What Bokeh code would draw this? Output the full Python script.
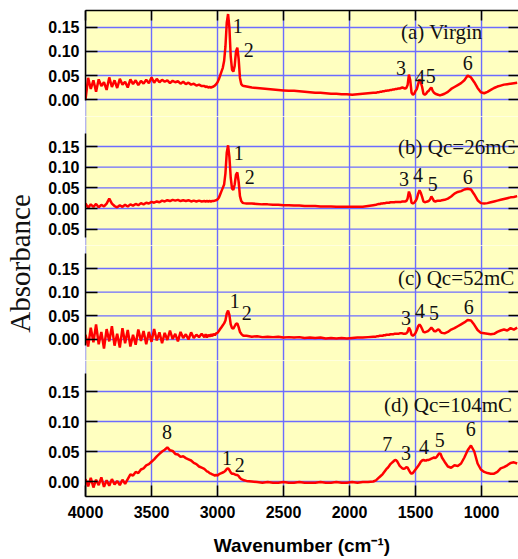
from bokeh.plotting import figure
from bokeh.models import Range1d, LinearAxis, FixedTicker
from bokeh.layouts import column, row
from bokeh.embed import file_html
from bokeh.resources import INLINE
from bokeh.core.properties import value

# ---------------- data ----------------
wavenumber = (list(range(4000, 3119, -20)) + list(range(3100, 2799, -10)) +
              list(range(2780, 1819, -40)) + list(range(1800, 1299, -10)) +
              list(range(1280, 729, -25)))

virgin = [
    0.000, 0.045, 0.022, 0.040, 0.016, 0.042, 0.028, 0.036, 0.020, 0.046,
    0.026, 0.040, 0.024, 0.043, 0.031, 0.037, 0.025, 0.042, 0.032, 0.040,
    0.030, 0.039, 0.033, 0.041, 0.034, 0.046, 0.035, 0.043, 0.036, 0.041,
    0.037, 0.040, 0.034, 0.039, 0.036, 0.038, 0.033, 0.037, 0.032, 0.035,
    0.031, 0.033, 0.029, 0.031, 0.028,
    0.028, 0.026, 0.027, 0.025, 0.026, 0.025, 0.026, 0.027, 0.029, 0.032,
    0.036, 0.042, 0.050, 0.058, 0.066, 0.080, 0.110, 0.160, 0.178, 0.150,
    0.090, 0.062, 0.058, 0.070, 0.100, 0.108, 0.085, 0.045, 0.032, 0.029, 0.028,
    0.027, 0.025, 0.024, 0.023, 0.022, 0.021, 0.020, 0.019, 0.018, 0.018,
    0.017, 0.016, 0.015, 0.014, 0.014, 0.013, 0.012, 0.012, 0.011, 0.011,
    0.010, 0.011, 0.012, 0.013, 0.014,
    0.014, 0.015, 0.015, 0.016, 0.016, 0.017, 0.017, 0.018, 0.018, 0.019,
    0.019, 0.020, 0.020, 0.021, 0.021, 0.022, 0.022, 0.023, 0.023, 0.024,
    0.025, 0.024, 0.023, 0.024, 0.030, 0.052, 0.040, 0.014, 0.010, 0.012,
    0.018, 0.022, 0.032, 0.042, 0.036, 0.026, 0.012, 0.010, 0.012, 0.016,
    0.018, 0.022, 0.025, 0.018, 0.014, 0.012, 0.011, 0.010, 0.009, 0.009, 0.010,
    0.012, 0.016, 0.022, 0.026, 0.030, 0.034, 0.040, 0.050, 0.046, 0.036,
    0.024, 0.015, 0.013, 0.016, 0.020, 0.024, 0.027, 0.029, 0.031, 0.032,
    0.033, 0.034, 0.035,
]

qc26 = [
    0.012, 0.002, 0.010, 0.004, 0.011, 0.003, 0.009, 0.005, 0.012, 0.024,
    0.012, 0.006, 0.003, 0.008, 0.004, 0.009, 0.005, 0.010, 0.007, 0.011,
    0.008, 0.013, 0.010, 0.014, 0.012, 0.016, 0.014, 0.017, 0.015, 0.019,
    0.017, 0.020, 0.018, 0.021, 0.019, 0.021, 0.018, 0.020, 0.018, 0.020,
    0.017, 0.019, 0.017, 0.019, 0.017,
    0.018, 0.017, 0.018, 0.017, 0.018, 0.017, 0.018, 0.018, 0.019, 0.020,
    0.022, 0.026, 0.034, 0.042, 0.050, 0.058, 0.085, 0.135, 0.153, 0.125,
    0.075, 0.048, 0.045, 0.058, 0.082, 0.087, 0.065, 0.030, 0.018, 0.014, 0.013,
    0.012, 0.012, 0.011, 0.010, 0.010, 0.009, 0.009, 0.008, 0.008, 0.007,
    0.007, 0.006, 0.006, 0.006, 0.005, 0.005, 0.005, 0.004, 0.004, 0.004,
    0.004, 0.004, 0.004, 0.006, 0.008,
    0.009, 0.010, 0.011, 0.011, 0.012, 0.012, 0.013, 0.013, 0.014, 0.014,
    0.014, 0.015, 0.015, 0.015, 0.015, 0.016, 0.016, 0.016, 0.016, 0.016,
    0.017, 0.017, 0.017, 0.018, 0.024, 0.041, 0.032, 0.014, 0.012, 0.014,
    0.018, 0.024, 0.036, 0.044, 0.038, 0.028, 0.017, 0.015, 0.016, 0.017,
    0.018, 0.022, 0.029, 0.024, 0.018, 0.017, 0.018, 0.019, 0.019, 0.019, 0.020,
    0.021, 0.024, 0.029, 0.036, 0.040, 0.042, 0.046, 0.048, 0.046, 0.034,
    0.020, 0.013, 0.012, 0.013, 0.015, 0.017, 0.019, 0.021, 0.023, 0.025,
    0.027, 0.028, 0.030,
]

qc52 = [
    0.010, -0.015, 0.025, -0.006, 0.032, -0.010, 0.016, -0.019, 0.022, -0.004,
    0.028, -0.013, 0.012, -0.017, 0.024, -0.008, 0.020, -0.015, 0.010, -0.011,
    0.021, -0.003, 0.018, -0.010, 0.016, -0.005, 0.022, -0.002, 0.015, -0.008,
    0.014, -0.001, 0.019, 0.001, 0.012, -0.004, 0.016, 0.003, 0.011, 0.000,
    0.015, 0.003, 0.010, 0.005, 0.012,
    0.005, 0.011, 0.004, 0.010, 0.006, 0.011, 0.007, 0.012, 0.009, 0.013,
    0.014, 0.018, 0.022, 0.026, 0.030, 0.034, 0.040, 0.055, 0.061, 0.052,
    0.032, 0.024, 0.023, 0.028, 0.033, 0.034, 0.026, 0.016, 0.012, 0.009, 0.008,
    0.008, 0.006, 0.007, 0.005, 0.006, 0.005, 0.006, 0.004, 0.005, 0.004,
    0.005, 0.003, 0.004, 0.003, 0.004, 0.002, 0.003, 0.002, 0.003, 0.002,
    0.003, 0.004, 0.004, 0.005, 0.006,
    0.006, 0.007, 0.007, 0.008, 0.008, 0.008, 0.009, 0.009, 0.010, 0.010,
    0.010, 0.011, 0.011, 0.011, 0.012, 0.012, 0.012, 0.012, 0.013, 0.013,
    0.013, 0.012, 0.012, 0.013, 0.016, 0.025, 0.020, 0.010, 0.008, 0.010,
    0.014, 0.020, 0.028, 0.032, 0.028, 0.022, 0.016, 0.015, 0.016, 0.017,
    0.019, 0.022, 0.025, 0.022, 0.018, 0.017, 0.019, 0.021, 0.020, 0.016, 0.014,
    0.013, 0.016, 0.021, 0.024, 0.028, 0.032, 0.036, 0.041, 0.040, 0.031,
    0.020, 0.014, 0.013, 0.012, 0.011, 0.012, 0.016, 0.019, 0.021, 0.019,
    0.024, 0.021, 0.025,
]

qc104 = [
    0.004, -0.008, 0.006, -0.010, 0.003, -0.006, 0.007, -0.009, 0.002, -0.007,
    0.004, -0.005, 0.001, -0.006, 0.003, -0.004, 0.004, 0.012, 0.010, 0.016,
    0.014, 0.020, 0.022, 0.027, 0.029, 0.033, 0.037, 0.042, 0.046, 0.050,
    0.053, 0.057, 0.052, 0.051, 0.046, 0.045, 0.041, 0.042, 0.039, 0.037,
    0.035, 0.031, 0.029, 0.025, 0.023,
    0.021, 0.019, 0.017, 0.016, 0.014, 0.013, 0.012, 0.011, 0.010, 0.011,
    0.010, 0.012, 0.013, 0.014, 0.015, 0.016, 0.018, 0.021, 0.022, 0.019,
    0.015, 0.013, 0.013, 0.012, 0.011, 0.011, 0.009, 0.006, 0.004, 0.003, 0.002,
    0.001, 0.000, -0.001, -0.002, -0.001, -0.002, -0.002, -0.001, -0.002, -0.002,
    -0.001, -0.002, -0.002, -0.002, -0.001, -0.002, -0.002, -0.001, -0.002, -0.002,
    -0.001, -0.002, -0.001, -0.001, 0.000,
    0.002, 0.004, 0.006, 0.008, 0.010, 0.012, 0.015, 0.018, 0.021, 0.023,
    0.026, 0.029, 0.031, 0.033, 0.035, 0.036, 0.034, 0.030, 0.026, 0.024,
    0.022, 0.021, 0.022, 0.024, 0.023, 0.019, 0.015, 0.013, 0.014, 0.017,
    0.020, 0.023, 0.026, 0.029, 0.033, 0.035, 0.036, 0.035, 0.035, 0.036,
    0.036, 0.037, 0.038, 0.039, 0.040, 0.039, 0.041, 0.044, 0.047, 0.046, 0.040,
    0.033, 0.025, 0.023, 0.027, 0.026, 0.030, 0.040, 0.052, 0.060, 0.050,
    0.030, 0.020, 0.016, 0.014, 0.013, 0.013, 0.016, 0.022, 0.024, 0.027,
    0.031, 0.032, 0.030,
]

x_ticks = [4000, 3500, 3000, 2500, 2000, 1500, 1000]

titles = ["(a) Virgin", "(b) Qc=26mC", "(c) Qc=52mC", "(d) Qc=104mC"]
title_pos = [(1610, 0.140), (1632, 0.148), (1632, 0.129), (1738, 0.127)]

peak_a = (["1", "2", "3", "4", "5", "6"],
          [2846, 2763, 1610, 1467, 1384, 1105],
          [0.154, 0.104, 0.065, 0.046, 0.048, 0.077])
peak_b = (["1", "2", "3", "4", "5", "6"],
          [2839, 2756, 1587, 1482, 1369, 1105],
          [0.135, 0.077, 0.072, 0.080, 0.060, 0.077])
peak_c = (["1", "2", "3", "4", "5", "6"],
          [2869, 2779, 1572, 1467, 1361, 1097],
          [0.082, 0.055, 0.046, 0.061, 0.055, 0.068])
peak_d = (["8", "1", "2", "7", "3", "4", "5", "6"],
          [3382, 2929, 2831, 1715, 1572, 1436, 1316, 1082],
          [0.082, 0.040, 0.028, 0.063, 0.048, 0.058, 0.070, 0.087])

x_title = "Wavenumber (cm\u207b\u00b9)"
y_title = "Absorbance"

# ---------------- styling ----------------
BG = "#ffffc0"
GRID = "#6c6cff"
SERIF = "Liberation Serif"
SANS = "Liberation Sans"
MAIN_W = 473
X_LO, X_HI = 4000, 720

x_rng = Range1d(X_LO, X_HI)


def hidden_labels(ax):
    ax.major_label_text_font_size = "0px"
    ax.major_label_text_color = None
    ax.major_label_standoff = 0


def make_panel(h, yr, ticks, bounds, spectrum, title, tpos, peaks,
               top=0, bottom=0, xaxis=False, overrides=None):
    p = figure(width=MAIN_W, height=h, x_range=x_rng, y_range=Range1d(*yr),
               output_backend="svg", toolbar_location=None, title=None,
               x_axis_location="below" if xaxis else None,
               y_axis_location="left",
               min_border_left=38, min_border_right=0,
               min_border_top=top, min_border_bottom=bottom)
    p.background_fill_color = BG
    p.border_fill_color = "white"
    p.outline_line_color = None
    p.grid.visible = False

    # grid lines at the tick positions (drawn as glyphs beneath the spectrum)
    p.segment(x0=x_ticks, x1=x_ticks, y0=[yr[0]] * len(x_ticks),
              y1=[yr[1]] * len(x_ticks), line_color=GRID, line_width=1.4)
    p.segment(x0=[X_LO] * len(ticks), x1=[X_HI] * len(ticks), y0=ticks, y1=ticks,
              line_color=GRID, line_width=1.4)

    ly = p.yaxis[0]
    ly.ticker = FixedTicker(ticks=ticks)
    ly.bounds = bounds
    ly.major_tick_in = 12
    ly.major_tick_out = 0
    ly.minor_tick_line_color = None
    ly.axis_line_width = 1.5
    ly.major_tick_line_width = 1.5
    ly.major_label_text_font = SANS
    ly.major_label_text_font_style = "bold"
    ly.major_label_text_font_size = "16px"
    ly.major_label_text_color = "black"
    ly.major_label_standoff = 6
    if overrides:
        ly.major_label_overrides = overrides
    else:
        ly.major_label_overrides = {t: f"{t:.2f}" for t in ticks}

    ry = LinearAxis(ticker=FixedTicker(ticks=ticks), major_tick_in=10,
                    major_tick_out=0, axis_line_color=None,
                    minor_tick_line_color=None, major_tick_line_width=1.5)
    hidden_labels(ry)
    p.add_layout(ry, "right")

    p.line(wavenumber, spectrum, line_color="#ff0000", line_width=2.5)

    p.text(x=[tpos[0]], y=[tpos[1]], text=[title], text_font=value(SERIF),
           text_font_size="21px", text_align="left", text_baseline="middle",
           text_color="#111111")
    p.text(x=peaks[1], y=peaks[2], text=peaks[0], text_font=value(SERIF),
           text_font_size="20px", text_align="center", text_baseline="middle",
           text_color="#111111")

    if xaxis:
        xa = p.xaxis[0]
        xa.ticker = FixedTicker(ticks=x_ticks)
        xa.major_tick_in = 11
        xa.major_tick_out = 0
        xa.minor_tick_line_color = None
        xa.axis_line_width = 1.5
        xa.major_tick_line_width = 1.5
        xa.major_label_text_font = SANS
        xa.major_label_text_font_style = "bold"
        xa.major_label_text_font_size = "16px"
        xa.major_label_text_color = "black"
        xa.major_label_standoff = 9
        xa.axis_label = x_title
        xa.axis_label_text_font = SANS
        xa.axis_label_text_font_style = "bold"
        xa.axis_label_text_font_size = "19px"
        xa.axis_label_text_color = "black"
        xa.axis_label_standoff = 14
    return p


fa = make_panel(116, (-0.0354, 0.1854), [0.0, 0.05, 0.10, 0.15], (-0.002, 0.19),
                virgin, titles[0], title_pos[0], peak_a, top=10)
top_axis = LinearAxis(ticker=FixedTicker(ticks=x_ticks), major_tick_in=10,
                      major_tick_out=0, minor_tick_line_color=None,
                      axis_line_width=1.5, major_tick_line_width=1.5)
hidden_labels(top_axis)
fa.add_layout(top_axis, "above")

fb = make_panel(129, (-0.0895, 0.2226), [-0.05, 0.0, 0.05, 0.10, 0.15], (-0.07, 0.181),
                qc26, titles[1], title_pos[1], peak_b,
                overrides={-0.05: "0.05", 0.0: "0.00", 0.05: "0.05", 0.10: "0.10", 0.15: "0.15"})
fc = make_panel(115, (-0.0444, 0.1986), [0.0, 0.05, 0.10, 0.15], (-0.013, 0.182),
                qc52, titles[2], title_pos[2], peak_c)
fd = make_panel(199, (-0.025, 0.2017), [0.0, 0.05, 0.10, 0.15], (-0.03, 0.18),
                qc104, titles[3], title_pos[3], peak_d, bottom=63, xaxis=True)

# y axis title, carried by an otherwise empty axis in a narrow strip
lab = figure(width=45, height=559, x_range=Range1d(0, 1), y_range=Range1d(0, 1),
             output_backend="svg", toolbar_location=None, title=None,
             x_axis_location=None, y_axis_location="left",
             min_border_left=0, min_border_right=0, min_border_top=0, min_border_bottom=33)
lab.outline_line_color = None
lab.grid.visible = False
lab.background_fill_color = "white"
la = lab.yaxis[0]
la.ticker = FixedTicker(ticks=[])
la.axis_line_color = None
la.major_tick_line_color = None
la.minor_tick_line_color = None
la.major_tick_out = 0
la.major_tick_in = 0
hidden_labels(la)
la.axis_label = y_title
la.axis_label_text_font = SERIF
la.axis_label_text_font_style = "normal"
la.axis_label_text_font_size = "29px"
la.axis_label_text_line_height = 0.9
la.axis_label_text_color = "#111111"
la.axis_label_standoff = 0

layout = row(lab, column(fa, fb, fc, fd))

open("out.html", "w").write(file_html(layout, INLINE))
